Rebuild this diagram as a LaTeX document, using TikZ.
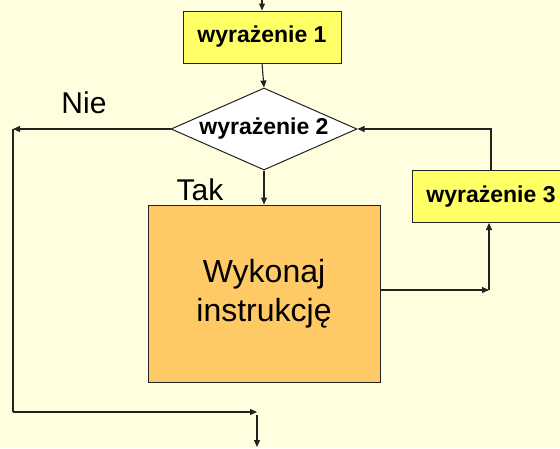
\documentclass[tikz,border=0pt]{standalone}
\usepackage{fontspec}
\setmainfont{Liberation Sans}
\usetikzlibrary{shapes.geometric,arrows.meta}
\definecolor{bgpale}{HTML}{FFFFE0}
\definecolor{exprfill}{HTML}{FFFF66}
\definecolor{bodyfill}{HTML}{FFC966}
\definecolor{edge}{HTML}{222222}
\tikzset{
  exprbox/.style={draw=edge, line width=1pt, fill=exprfill, inner sep=0pt,
    minimum width=158pt, minimum height=52pt,
    font=\fontsize{23}{26}\selectfont\bfseries},
  decision/.style={draw=edge, line width=1pt, fill=white, shape=diamond,
    aspect=2.27, inner sep=0pt, minimum width=186pt, minimum height=82pt,
    font=\fontsize{23}{26}\selectfont\bfseries},
  bodybox/.style={draw=edge, line width=1pt, fill=bodyfill, inner sep=0pt,
    minimum width=232pt, minimum height=177pt, align=center,
    font=\fontsize{32}{39}\selectfont},
  lbl/.style={font=\fontsize{30}{34}\selectfont, inner sep=0pt},
  flow/.style={draw=edge, line width=1.1pt,
    -{Triangle[length=7pt,width=6pt]}},
  plain/.style={draw=edge, line width=1.1pt},
}
\begin{document}
\begin{tikzpicture}[x=1pt, y=-1pt]
  \useasboundingbox (0,0) rectangle (560,448);
  \fill[bgpale] (0,0) rectangle (560,448);
  \clip (0,0) rectangle (560,448);

  % flowchart blocks
  \node[exprbox] (e1) at (262,37) {wyrażenie 1};
  \node[decision] (e2) at (264,129) {wyrażenie 2};
  \node[bodybox] (body) at (264,293.5) {Wykonaj\\instrukcję};
  \node[exprbox] (e3) at (491,196.5) {wyrażenie 3};

  % branch labels
  \node[lbl] (nie) at (84,103) {Nie};
  \node[lbl] (tak) at (200,190) {Tak};

  % auxiliary points of the routing
  \coordinate (in) at (262,0);
  \coordinate (nieend) at (13,129);
  \coordinate (corner) at (13,412);
  \coordinate (join) at (257,412);
  \coordinate (outtop) at (257,415);
  \coordinate (out) at (257,447);
  \coordinate (upturn) at (489,290);
  \coordinate (topturn) at (491,129);

  % connectors
  \draw[flow] (in) -- (e1.north);
  \draw[flow] (e1.south) -- (e2.north);
  \draw[flow] (e2.south) -- (body.north);
  \draw[flow] (e2.west) -- (nieend);
  \draw[plain] (nieend) -- (corner);
  \draw[flow] (corner) -- (join);
  \draw[flow] (outtop) -- (out);
  \draw[flow] (body.east |- upturn) -- (upturn);
  \draw[flow] (upturn) -- (upturn |- e3.south);
  \draw[flow] (e3.north) -- (topturn) -- (e2.east);
\end{tikzpicture}
\end{document}
